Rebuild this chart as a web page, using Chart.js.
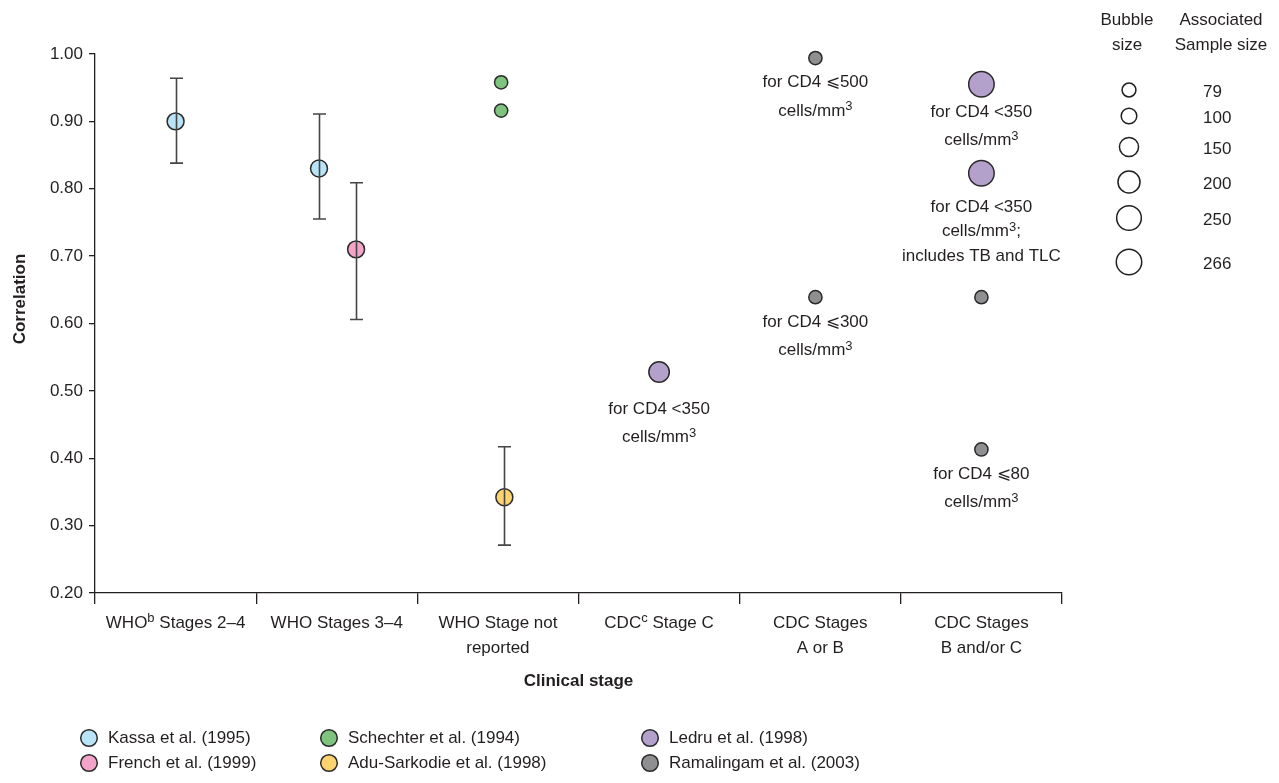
<!DOCTYPE html>
<html>
<head>
<meta charset="utf-8">
<script src="https://cdn.jsdelivr.net/npm/chart.js@4.4.1/dist/chart.umd.min.js"></script>
<style>
  html, body { margin: 0; padding: 0; background: #ffffff; }
  #wrap { width: 1279px; height: 783px; position: relative; }
</style>
</head>
<body>
<div id="wrap"><canvas id="c" width="1279" height="783"></canvas></div>
<script>
// ---- Categories (clinical stage); "^x" marks a superscript character ----
const stageLabels = [
  ['WHO^b Stages 2–4'],
  ['WHO Stages 3–4'],
  ['WHO Stage not', 'reported'],
  ['CDC^c Stage C'],
  ['CDC Stages', 'A or B'],
  ['CDC Stages', 'B and/or C']
];
const yMin = 0.20, yMax = 1.00, yStep = 0.10;

// ---- Studies ----
const studyNames = [
  'Kassa et al. (1995)',
  'French et al. (1999)',
  'Schechter et al. (1994)',
  'Adu-Sarkodie et al. (1998)',
  'Ledru et al. (1998)',
  'Ramalingam et al. (2003)'
];

// stage position (category index), correlation, 95% CI bounds, sample size
const kassaStage = [0, 0.89];
const kassaCorr  = [0.90, 0.83];
const kassaLow   = [0.838, 0.755];
const kassaHigh  = [0.964, 0.911];
const kassaN     = [118, 118];

const frenchStage = [1.12];
const frenchCorr  = [0.71];
const frenchLow   = [0.606];
const frenchHigh  = [0.809];
const frenchN     = [118];

const schechterStage = [2.02, 2.02];
const schechterCorr  = [0.958, 0.916];
const schechterN     = [72, 72];

const aduStage = [2.04];
const aduCorr  = [0.342];
const aduLow   = [0.271];
const aduHigh  = [0.417];
const aduN     = [118];

const ledruStage = [3.0, 5.0, 5.0];
const ledruCorr  = [0.528, 0.955, 0.823];
const ledruN     = [172, 266, 266];
const ledruNotes = [
  ['for CD4 <350', 'cells/mm^3'],
  ['for CD4 <350', 'cells/mm^3'],
  ['for CD4 <350', 'cells/mm^3;', 'includes TB and TLC']
];

const ramalingamStage = [3.97, 3.97, 5.0, 5.0];
const ramalingamCorr  = [0.994, 0.639, 0.639, 0.413];
const ramalingamN     = [72, 72, 72, 72];
const ramalingamNotes = [
  ['for CD4 \u2A7D500', 'cells/mm^3'],
  ['for CD4 \u2A7D300', 'cells/mm^3'],
  null,
  ['for CD4 \u2A7D80', 'cells/mm^3']
];

// reference sample sizes for the bubble key
const keySizes = [79, 100, 150, 200, 250, 266];

// ---- Styling ----
const INK = '#231f20';
const EDGE = '#2b2a2a';
const fills = ['#b9e3f6', '#f3a4c8', '#7ec47f', '#fdd36f', '#b3a1cc', '#8f8f91'];
// extra drop (px) of a note block below its bubble, per study
const noteDrop = { 'Ledru et al. (1998)': [9, -3, 3] };

// pick a condensed face when it is installed, else a regular sans at a smaller size
function hasFont(name) {
  const c = document.createElement('canvas').getContext('2d');
  c.font = '40px monospace';
  const base = c.measureText('abcdefghijklmnopWMW').width;
  c.font = '40px "' + name + '", monospace';
  return c.measureText('abcdefghijklmnopWMW').width !== base;
}
let FONT, FS;
if (hasFont('Liberation Sans Narrow')) { FONT = '"Liberation Sans Narrow", sans-serif'; FS = 20.5; }
else { FONT = '"Liberation Sans", Arial, sans-serif'; FS = 17; }

function radiusFor(n) { return 0.78 * Math.sqrt(n); }

function setFont(ctx, size, bold) { ctx.font = (bold ? 'bold ' : '') + size + 'px ' + FONT; }
function parseRich(s) {
  const parts = []; const re = /\^(.)/g; let last = 0, m;
  while ((m = re.exec(s))) {
    if (m.index > last) parts.push({ t: s.slice(last, m.index) });
    parts.push({ t: m[1], sup: true });
    last = re.lastIndex;
  }
  if (last < s.length) parts.push({ t: s.slice(last) });
  return parts;
}
function drawRich(ctx, s, x, y, align, size, bold) {
  const parts = parseRich(s);
  const supSize = Math.round(size * 0.78);
  let w = 0;
  parts.forEach(p => { setFont(ctx, p.sup ? supSize : size, bold); p.w = ctx.measureText(p.t).width; w += p.w; });
  let cx = align === 'center' ? x - w / 2 : (align === 'right' ? x - w : x);
  ctx.textAlign = 'left';
  ctx.textBaseline = 'middle';
  parts.forEach(p => {
    setFont(ctx, p.sup ? supSize : size, bold);
    ctx.fillText(p.t, cx, p.sup ? y - size * 0.26 : y);
    cx += p.w;
  });
}

// ---- Datasets ----
const series = [
  { stage: kassaStage, corr: kassaCorr, n: kassaN, low: kassaLow, high: kassaHigh },
  { stage: frenchStage, corr: frenchCorr, n: frenchN, low: frenchLow, high: frenchHigh },
  { stage: schechterStage, corr: schechterCorr, n: schechterN },
  { stage: aduStage, corr: aduCorr, n: aduN, low: aduLow, high: aduHigh },
  { stage: ledruStage, corr: ledruCorr, n: ledruN, notes: ledruNotes },
  { stage: ramalingamStage, corr: ramalingamCorr, n: ramalingamN, notes: ramalingamNotes }
];

const datasets = series.map((s, i) => ({
  label: studyNames[i],
  data: s.stage.map((x, j) => ({ x: x, y: s.corr[j], r: radiusFor(s.n[j]) })),
  backgroundColor: fills[i],
  borderColor: EDGE,
  borderWidth: 1.5,
  hoverBorderWidth: 1.5,
  clip: false,
  low: s.low || null,
  high: s.high || null,
  notes: s.notes || null
}));

const boundaries = stageLabels.map((_, i) => i - 0.5).concat([stageLabels.length - 0.5]);

// ---- Plugins: error bars, point notes, axis text, keys ----
const errorBars = {
  id: 'errorBars',
  afterDatasetsDraw(chart) {
    const ctx = chart.ctx, ys = chart.scales.y;
    ctx.save();
    ctx.strokeStyle = '#454545';
    ctx.lineWidth = 1.6;
    chart.data.datasets.forEach((ds, i) => {
      if (!ds.low) return;
      const meta = chart.getDatasetMeta(i);
      meta.data.forEach((el, j) => {
        const x = Math.round(el.x) + 0.5;
        const yl = ys.getPixelForValue(ds.low[j]);
        const yh = ys.getPixelForValue(ds.high[j]);
        ctx.beginPath();
        ctx.moveTo(x, yh); ctx.lineTo(x, yl);
        ctx.moveTo(x - 6.5, yh); ctx.lineTo(x + 6.5, yh);
        ctx.moveTo(x - 6.5, yl); ctx.lineTo(x + 6.5, yl);
        ctx.stroke();
      });
    });
    ctx.restore();
  }
};

const pointNotes = {
  id: 'pointNotes',
  afterDatasetsDraw(chart) {
    const ctx = chart.ctx;
    ctx.save();
    ctx.fillStyle = INK;
    chart.data.datasets.forEach((ds, i) => {
      if (!ds.notes) return;
      const drops = noteDrop[ds.label] || [];
      const meta = chart.getDatasetMeta(i);
      meta.data.forEach((el, j) => {
        const lines = ds.notes[j];
        if (!lines) return;
        const r = ds.data[j].r;
        let y = el.y + r + 18 + (drops[j] || 0);
        const step = lines.length > 2 ? 24.5 : 28.5;
        lines.forEach(line => { drawRich(ctx, line, el.x, y, 'center', FS); y += step; });
      });
    });
    ctx.restore();
  }
};

const textLayer = {
  id: 'textLayer',
  afterDraw(chart) {
    const ctx = chart.ctx, xs = chart.scales.x, area = chart.chartArea;
    ctx.save();
    ctx.fillStyle = INK;

    // category labels
    stageLabels.forEach((lines, i) => {
      const cx = xs.getPixelForValue(i);
      lines.forEach((line, k) => drawRich(ctx, line, cx, 623 + k * 25, 'center', FS));
    });

    // axis titles
    drawRich(ctx, 'Clinical stage', (area.left + area.right) / 2, 681, 'center', FS, true);
    ctx.save();
    ctx.translate(20, 299);
    ctx.rotate(-Math.PI / 2);
    drawRich(ctx, 'Correlation', 0, 0, 'center', FS, true);
    ctx.restore();

    // study key: three columns, two rows
    const colX = [89, 329, 650], rowY = [738, 763];
    chart.data.datasets.forEach((ds, i) => {
      const cx = colX[Math.floor(i / 2)], cy = rowY[i % 2];
      ctx.beginPath();
      ctx.arc(cx, cy, 8.3, 0, Math.PI * 2);
      ctx.fillStyle = ds.backgroundColor; ctx.fill();
      ctx.lineWidth = 1.5; ctx.strokeStyle = EDGE; ctx.stroke();
      ctx.fillStyle = INK;
      drawRich(ctx, ds.label, cx + 19, cy, 'left', FS);
    });

    // bubble size key
    drawRich(ctx, 'Bubble', 1127, 20, 'center', FS);
    drawRich(ctx, 'size', 1127, 45, 'center', FS);
    drawRich(ctx, 'Associated', 1221, 20, 'center', FS);
    drawRich(ctx, 'Sample size', 1221, 45, 'center', FS);
    const keyY = [90, 116, 147, 182, 218, 262];
    keySizes.forEach((n, k) => {
      ctx.beginPath();
      ctx.arc(1129, keyY[k], radiusFor(n), 0, Math.PI * 2);
      ctx.fillStyle = '#ffffff'; ctx.fill();
      ctx.lineWidth = 1.5; ctx.strokeStyle = INK; ctx.stroke();
      ctx.fillStyle = INK;
      drawRich(ctx, String(n), 1203, keyY[k] + 2, 'left', FS);
    });
    ctx.restore();
  }
};

new Chart(document.getElementById('c'), {
  type: 'bubble',
  data: { datasets: datasets },
  options: {
    responsive: false,
    animation: false,
    events: [],
    devicePixelRatio: 1,
    layout: { padding: { top: 54, right: 217, bottom: 0, left: 0 } },
    plugins: { legend: { display: false }, tooltip: { enabled: false } },
    scales: {
      x: {
        type: 'linear',
        min: boundaries[0],
        max: boundaries[boundaries.length - 1],
        afterBuildTicks(s) { s.ticks = boundaries.map(v => ({ value: v })); },
        afterFit(s) { s.height = 190; },
        ticks: { autoSkip: false, callback: () => '' },
        grid: { drawOnChartArea: false, tickLength: 11, color: INK, lineWidth: 1.3 },
        border: { color: INK, width: 1.3 }
      },
      y: {
        min: yMin,
        max: yMax,
        afterFit(s) { s.width = 95; },
        ticks: {
          stepSize: yStep,
          padding: 6,
          color: INK,
          font: { family: FONT, size: FS },
          callback: v => Number(v).toFixed(2)
        },
        grid: { drawOnChartArea: false, tickLength: 6, color: INK, lineWidth: 1.3 },
        border: { color: INK, width: 1.3 }
      }
    }
  },
  plugins: [errorBars, pointNotes, textLayer]
});
</script>
</body>
</html>
